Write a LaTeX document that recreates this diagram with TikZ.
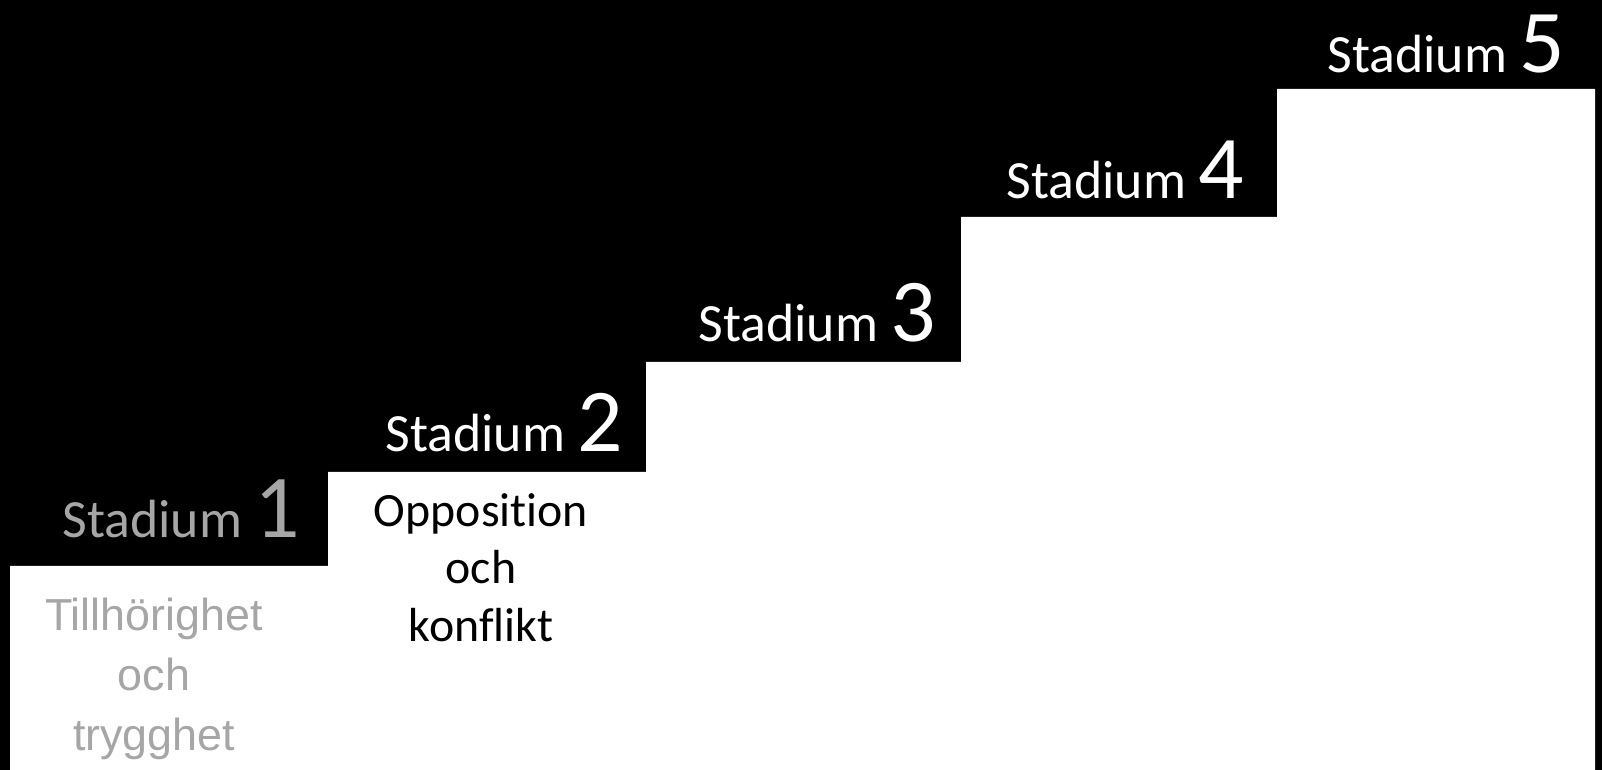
\documentclass[tikz,border=0pt]{standalone}
\usepackage{fontspec}
\newfontfamily\stfont[Ligatures=NoCommon]{Carlito}
\newfontfamily\arfont{Liberation Sans}
\definecolor{lightgrey}{HTML}{A6A6A6}
\begin{document}
\begin{tikzpicture}[x=1bp,y=1bp,
  stlabel/.style={anchor=base east,inner sep=0pt,font=\stfont\fontsize{54}{54}\selectfont},
  desc/.style={anchor=north,inner sep=0pt,align=center}]
\fill[black] (0,0) rectangle (1602,770);
\useasboundingbox (0,0) rectangle (1602,770);
\fill[white] (10,0) -- (10,204) -- (328,204) -- (328,298) -- (646,298) -- (646,408)
  -- (961,408) -- (961,553) -- (1277,553) -- (1277,681) -- (1595,681) -- (1595,0) -- cycle;
\newcommand{\dig}[1]{{\fontsize{90}{90}\selectfont #1}}
\node[stlabel,text=lightgrey] (s1) at (300,232) {Stadium \dig{1}};
\node[stlabel,text=white] (s2) at (623,318) {Stadium \dig{2}};
\node[stlabel,text=white] (s3) at (936,428) {Stadium \dig{3}};
\node[stlabel,text=white] (s4) at (1244,571) {Stadium \dig{4}};
\node[stlabel,text=white] (s5) at (1565,697) {Stadium \dig{5}};
\node[desc,text=lightgrey,font=\arfont\fontsize{45}{60}\selectfont] (d1) at (154,172) {Tillhörighet\\och\\trygghet};
\node[desc,text=black,font=\stfont\fontsize{48}{58}\selectfont] (d2) at (481,277) {Opposition\\och\\konflikt};
\end{tikzpicture}
\end{document}
